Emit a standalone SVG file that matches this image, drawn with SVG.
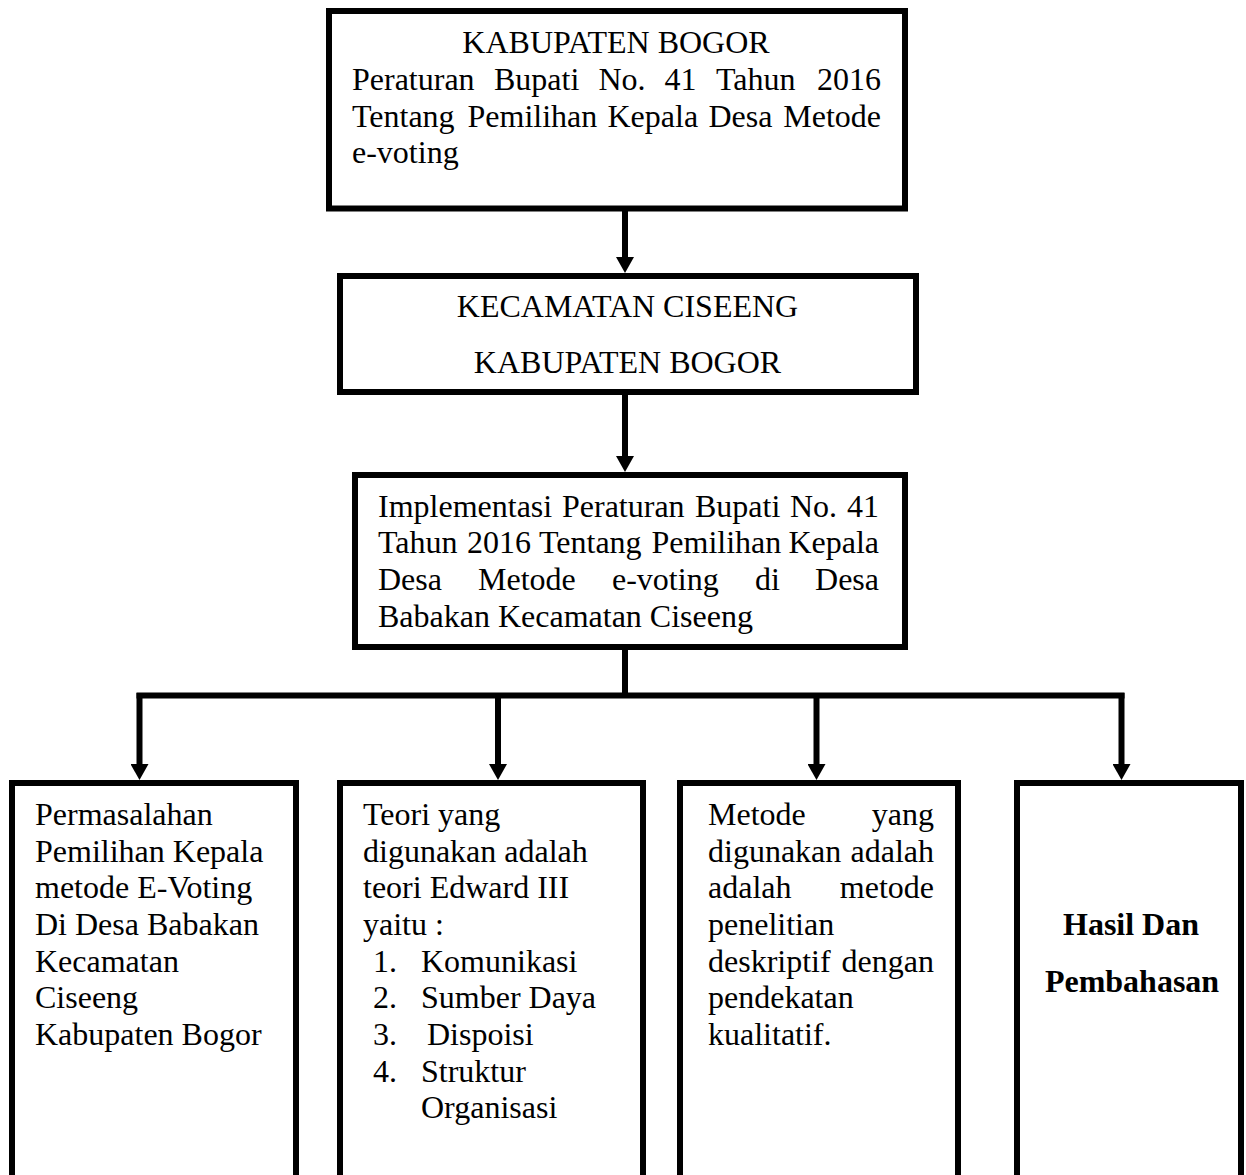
<svg xmlns="http://www.w3.org/2000/svg" width="1246" height="1175" viewBox="0 0 1246 1175">
<style>
  .box { fill: #ffffff; stroke: #000000; stroke-width: 6; }
  .t { font-family: "Liberation Serif", "Times New Roman", serif; font-size: 32px; fill: #000000; }
  .b { font-weight: bold; }
  .c { text-anchor: middle; }
  .e { text-anchor: end; }
  .ln { fill: none; stroke: #000000; stroke-width: 6; }
</style>
<defs>
  <marker id="arrow" markerUnits="userSpaceOnUse" markerWidth="16" markerHeight="18" viewBox="0 0 16 18" refX="0" refY="9" orient="auto">
    <path d="M0,0 L16,9 L0,18 Z" fill="#000000"/>
  </marker>
</defs>
<rect width="1246" height="1175" fill="#ffffff"/>

<g id="connectors">
  <path class="ln" d="M625 210 V257" marker-end="url(#arrow)"/>
  <path class="ln" d="M625 393 V456" marker-end="url(#arrow)"/>
  <path class="ln" d="M625 648 V696"/>
  <path class="ln" d="M136.5 695.5 H1124.5"/>
  <path class="ln" d="M139.5 693 V764" marker-end="url(#arrow)"/>
  <path class="ln" d="M498 693 V764" marker-end="url(#arrow)"/>
  <path class="ln" d="M816.5 693 V764" marker-end="url(#arrow)"/>
  <path class="ln" d="M1121.5 693 V764" marker-end="url(#arrow)"/>
</g>

<g id="node-kabupaten">
  <rect class="box" x="329" y="11" width="576" height="197.5"/>
  <text class="t c" x="616" y="53">KABUPATEN BOGOR</text>
  <text class="t" y="90"><tspan x="352">Peraturan</tspan><tspan x="494">Bupati</tspan><tspan x="598.5">No.</tspan><tspan x="664.5">41</tspan><tspan x="716">Tahun</tspan><tspan class="e" x="881">2016</tspan></text>
  <text class="t" y="127"><tspan x="352">Tentang</tspan><tspan x="467.5">Pemilihan</tspan><tspan x="607.5">Kepala</tspan><tspan x="708.5">Desa</tspan><tspan class="e" x="881">Metode</tspan></text>
  <text class="t" x="352" y="163">e-voting</text>
</g>

<g id="node-kecamatan">
  <rect class="box" x="340" y="276" width="576" height="116"/>
  <text class="t c" x="627.5" y="317">KECAMATAN CISEENG</text>
  <text class="t c" x="627.5" y="373">KABUPATEN BOGOR</text>
</g>

<g id="node-implementasi">
  <rect class="box" x="355" y="475" width="550" height="172"/>
  <text class="t" y="517"><tspan x="378">Implementasi</tspan><tspan x="562">Peraturan</tspan><tspan x="695">Bupati</tspan><tspan x="790">No.</tspan><tspan class="e" x="879">41</tspan></text>
  <text class="t" y="553"><tspan x="378">Tahun</tspan><tspan x="467">2016</tspan><tspan x="539">Tentang</tspan><tspan x="651.5">Pemilihan</tspan><tspan class="e" x="879">Kepala</tspan></text>
  <text class="t" y="590"><tspan x="378">Desa</tspan><tspan x="478">Metode</tspan><tspan x="612">e-voting</tspan><tspan x="755">di</tspan><tspan class="e" x="879">Desa</tspan></text>
  <text class="t" x="378" y="627">Babakan Kecamatan Ciseeng</text>
</g>

<g id="node-permasalahan">
  <rect class="box" x="12" y="783" width="284" height="396"/>
  <text class="t" x="35" y="825">Permasalahan</text>
  <text class="t" x="35" y="862">Pemilihan Kepala</text>
  <text class="t" x="35" y="898">metode E-Voting</text>
  <text class="t" x="35" y="935">Di Desa Babakan</text>
  <text class="t" x="35" y="972">Kecamatan</text>
  <text class="t" x="35" y="1008">Ciseeng</text>
  <text class="t" x="35" y="1045">Kabupaten Bogor</text>
</g>

<g id="node-teori">
  <rect class="box" x="340" y="783" width="303" height="396"/>
  <text class="t" x="363" y="825">Teori yang</text>
  <text class="t" x="363" y="862">digunakan adalah</text>
  <text class="t" x="363" y="898">teori Edward III</text>
  <text class="t" x="363" y="935">yaitu :</text>
  <text class="t" y="972"><tspan x="373">1.</tspan><tspan x="421">Komunikasi</tspan></text>
  <text class="t" y="1008"><tspan x="373">2.</tspan><tspan x="421">Sumber Daya</tspan></text>
  <text class="t" y="1045"><tspan x="373">3.</tspan><tspan x="427">Dispoisi</tspan></text>
  <text class="t" y="1082"><tspan x="373">4.</tspan><tspan x="421">Struktur</tspan></text>
  <text class="t" x="421" y="1118">Organisasi</text>
</g>

<g id="node-metode">
  <rect class="box" x="680" y="783" width="278" height="396"/>
  <text class="t" y="825"><tspan x="708">Metode</tspan><tspan class="e" x="934">yang</tspan></text>
  <text class="t" y="862"><tspan x="708">digunakan</tspan><tspan class="e" x="934">adalah</tspan></text>
  <text class="t" y="898"><tspan x="708">adalah</tspan><tspan class="e" x="934">metode</tspan></text>
  <text class="t" x="708" y="935">penelitian</text>
  <text class="t" y="972"><tspan x="708">deskriptif</tspan><tspan class="e" x="934">dengan</tspan></text>
  <text class="t" x="708" y="1008">pendekatan</text>
  <text class="t" x="708" y="1045">kualitatif.</text>
</g>

<g id="node-hasil">
  <rect class="box" x="1017" y="783" width="224" height="396"/>
  <text class="t b c" x="1131" y="935">Hasil Dan</text>
  <text class="t b c" x="1132" y="992">Pembahasan</text>
</g>
</svg>
